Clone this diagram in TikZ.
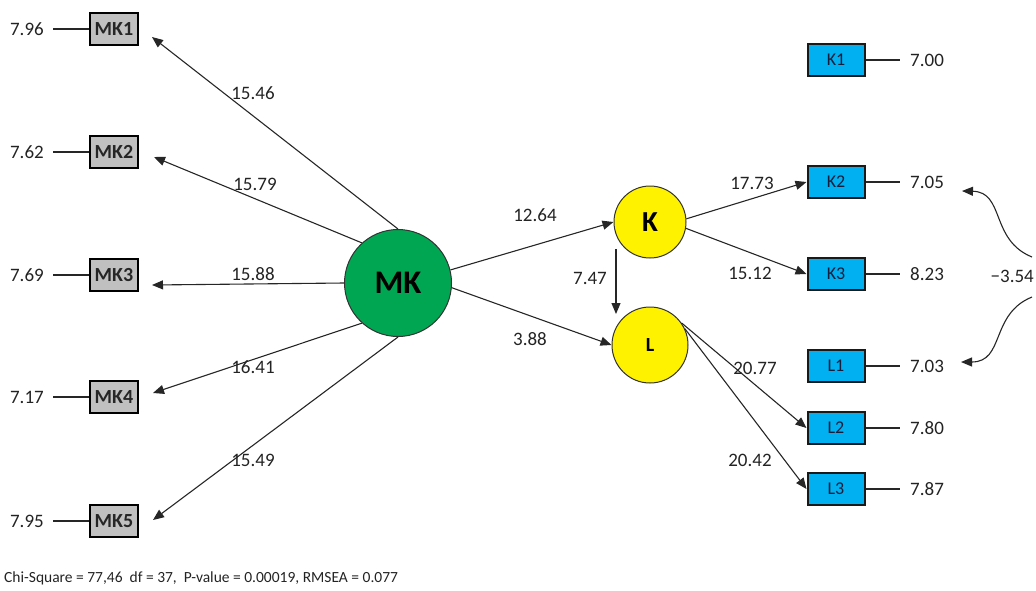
\documentclass[tikz,border=0pt]{standalone}
\usepackage{fontspec}
\setmainfont{Carlito}
\usetikzlibrary{arrows.meta,calc}
\definecolor{mkgreen}{RGB}{0,166,81}
\definecolor{boxgray}{RGB}{192,192,192}
\definecolor{boxblue}{RGB}{0,176,240}
\definecolor{navytext}{RGB}{20,30,60}
\definecolor{txt}{RGB}{35,35,35}
\tikzset{
  ind/.style={draw=black, line width=2pt, fill=boxgray, minimum width=48pt, minimum height=32pt, inner sep=0pt, font=\fontsize{20}{22}\selectfont\bfseries, text=black!85},
  bind/.style={draw=black!90, line width=2pt, fill=boxblue, minimum width=57pt, minimum height=32pt, inner sep=0pt, font=\fontsize{18}{20}\selectfont, text=navytext},
  lat/.style={circle, draw=black!80, line width=1pt, inner sep=0pt, font=\bfseries},
  val/.style={inner sep=0pt, font=\fontsize{19}{21}\selectfont, text=txt},
  lab/.style={inner sep=0pt, font=\fontsize{19}{21}\selectfont, text=txt},
  arr/.style={-{Triangle[length=11pt,width=9pt]}, line width=1.1pt, draw=black!85},
  ln/.style={line width=1.1pt, draw=black!85},
}
\begin{document}
\begin{tikzpicture}[x=1pt,y=-1pt]
\useasboundingbox (0,0) rectangle (1036,590);
% latent variables
\node[lat, fill=mkgreen, minimum size=107pt, font=\fontsize{33}{35}\selectfont\bfseries] (MK) at (398,283) {MK};
\node[lat, fill=yellow, minimum size=72pt, font=\fontsize{29}{31}\selectfont\bfseries] (K) at (650,222) {K};
\node[lat, fill=yellow, minimum size=76pt, font=\fontsize{20}{22}\selectfont\bfseries] (L) at (650,345) {L};
% MK indicators
\foreach \n/\y/\v in {1/29/7.96, 2/152/7.62, 3/275/7.69, 4/397/7.17, 5/521/7.95}{
  \node[ind] (MK\n) at (114,\y) {MK\n};
  \node[val, anchor=east] (eMK\n) at (44,\y) {\v};
  \draw[ln] (MK\n.west) -- ([xshift=9pt]eMK\n.east);
}
% K and L indicators
\foreach \n/\y/\v in {K1/60/7.00, K2/182/7.05, K3/274/8.23, L1/366/7.03, L2/428/7.80, L3/489/7.87}{
  \node[bind] (\n) at (836,\y) {\n};
  \node[val, anchor=west] (e\n) at (910,\y) {\v};
  \draw[ln] (\n.east) -- ([xshift=-10pt]e\n.west);
}
% tips
\coordinate (t1) at (152,37);
\coordinate (t2) at (154,157);
\coordinate (t3) at (152,285);
\coordinate (t4) at (153,393);
\coordinate (t5) at (153,520);
\draw[arr] (MK.90) -- (t1);
\draw[arr] (MK.132) -- (t2);
\draw[arr] (MK.180) -- (t3);
\draw[arr] (MK.228) -- (t4);
\draw[arr] (MK.270) -- (t5);
\node[lab] (l1) at (253,93) {15.46};
\node[lab] (l2) at (255,184) {15.79};
\node[lab] (l3) at (253,274) {15.88};
\node[lab] (l4) at (253,367) {16.41};
\node[lab] (l5) at (253,460) {15.49};
% structural paths
\draw[arr] (MK.14) -- (K.west);
\draw[arr] (MK.-5) -- (L.west);
\coordinate (kl1) at ($(K.center)+(-34,27)$);
\coordinate (kl2) at ($(L.center)+(-34,-31)$);
\draw[arr] (kl1) -- (kl2);
\node[lab] (s1) at (535,215) {12.64};
\node[lab] (s2) at (530,339) {3.88};
\node[lab] (s3) at (590,278) {7.47};
% measurement paths
\draw[arr] (K.5) -- (K2.west);
\draw[arr] (K.-10) -- (K3.west);
\draw[arr] (L.35) -- (L2.west);
\draw[arr] (L.25) -- (L3.west);
\node[lab] (m1) at (752,183) {17.73};
\node[lab] (m2) at (750,273) {15.12};
\node[lab] (m3) at (755,368) {20.77};
\node[lab] (m4) at (750,460) {20.42};
% correlated errors
\coordinate (c1) at (1032,257);
\coordinate (c2) at (1032,297);
\coordinate (ct) at (962,191);
\coordinate (cb) at (961,362);
\draw[arr] (c1) .. controls (990,240) and (1005,192) .. (ct);
\draw[arr] (c2) .. controls (990,314) and (1005,362) .. (cb);
\node[lab, anchor=east] (cv) at (1034,276) {−3.54};
% footer
\node[inner sep=0pt, anchor=west, font=\fontsize{15.5}{17}\selectfont, text=txt] (fit) at (4,578) {Chi-Square = 77,46\ \ df = 37,\ \ P-value = 0.00019, RMSEA = 0.077};
\end{tikzpicture}
\end{document}
